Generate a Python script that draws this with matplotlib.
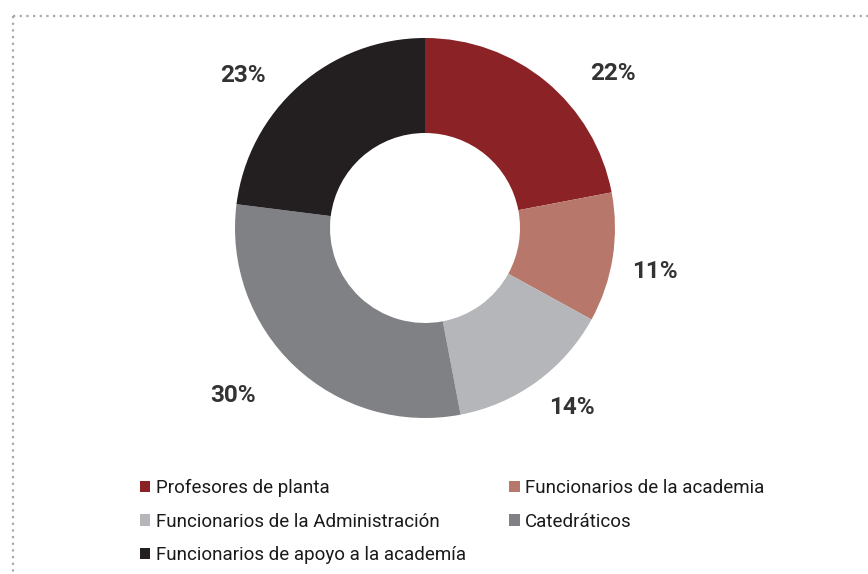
import matplotlib
matplotlib.use("Agg")
import numpy as np
from matplotlib import pyplot as plt
from matplotlib.lines import Line2D

# %% Data ---------------------------------------------------------------------------------------------------------------
categories = ["Profesores de planta",
              "Funcionarios de la academia",
              "Funcionarios de la Administración",
              "Catedráticos",
              "Funcionarios de apoyo a la academía"]
shares = [22, 11, 14, 30, 23]
colors = ["#8b2326", "#b7776b", "#b5b6b9", "#808184", "#231f20"]

# label placement (clockwise angle from 12 o'clock, distance in pie radii)
label_angle = [50.5, 100.8, 140.8, 229, 310]
label_dist = [1.28, 1.23, 1.22, 1.34, 1.25]

plt.rcParams['font.family'] = ['Roboto', 'DejaVu Sans']

# %% Figure -------------------------------------------------------------------------------------------------------------
W, H = 868, 574
fig = plt.figure(figsize=(W / 100, H / 100), dpi=100)

# donut centred at (425, 228) px from the top, radius 190 px
cx, cy, r = 425, 228, 190
ax = fig.add_axes([(cx - r) / W, (H - cy - r) / H, 2 * r / W, 2 * r / H])

wedges, _ = ax.pie(shares, colors=colors, startangle=90, counterclock=False,
                   radius=1, wedgeprops=dict(width=0.5, linewidth=0))
for v, a, d in zip(shares, label_angle, label_dist):
    t = np.deg2rad(a)
    ax.text(d * np.sin(t), d * np.cos(t), f"{v}%", ha="center", va="center",
            fontsize=17.5, fontweight="bold", color="#333333")
ax.set_xlim(-1, 1)
ax.set_ylim(-1, 1)

# %% Legend -------------------------------------------------------------------------------------------------------------
order = [0, 2, 4, 1, 3]
leg = fig.legend([wedges[i] for i in order], [categories[i] for i in order],
                 ncol=2, loc="upper left", bbox_to_anchor=(140 / W, 1 - 479 / H),
                 frameon=False, fontsize=13.5, handlelength=0.55, handleheight=0.55,
                 handletextpad=0.3, columnspacing=2.3, labelspacing=0.83,
                 borderpad=0, borderaxespad=0)
for t in leg.get_texts():
    t.set_color("#1a1a1a")

# %% Dotted frame -------------------------------------------------------------------------------------------------------
dots = dict(color="#a8a8a8", linewidth=1.6, linestyle=(0, (1, 2)), dash_capstyle="butt")
fig.add_artist(Line2D([13 / W, 1], [1 - 16 / H, 1 - 16 / H], transform=fig.transFigure, **dots))
fig.add_artist(Line2D([13 / W, 13 / W], [1 - 16 / H, 0], transform=fig.transFigure, **dots))

fig.savefig("out.png", dpi=100)
